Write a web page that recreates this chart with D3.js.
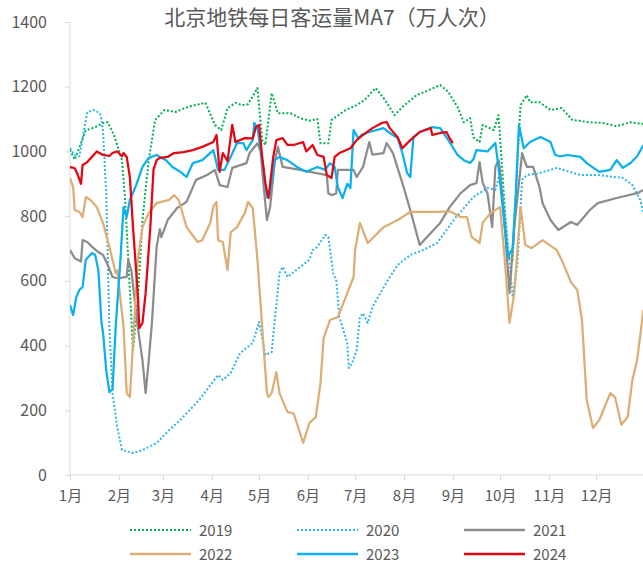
<!DOCTYPE html>
<html>
<head>
<meta charset="utf-8">
<style>
body { margin: 0; background: #fff; }
text { font-family: "Noto Sans CJK SC", "Noto Sans", sans-serif; fill: #595959; }
.axis path, .axis line { stroke: #d9d9d9; }
.lines path { fill: none; stroke-linejoin: round; }
</style>
</head>
<body>
<svg width="643" height="565"></svg>
<script src="https://cdn.jsdelivr.net/npm/d3@7"></script>
<script>
// [day of year, 万人次]
var s2019 = [[0,1005],[3,975],[10,1065],[16,1075],[22,1090],[24,1090],[28,1050],[33,973],[35,850],[37,665],[40,386],[43,540],[46,788],[50,973],[54,1097],[60,1128],[67,1122],[73,1134],[79,1143],[86,1150],[92,1082],[96,1066],[100,1134],[105,1150],[109,1143],[113,1146],[119,1196],[122,1035],[124,1020],[128,1180],[132,1118],[140,1118],[146,1103],[152,1095],[157,1100],[159,1025],[164,1025],[166,1097],[175,1128],[182,1143],[187,1159],[194,1196],[200,1159],[206,1112],[211,1137],[220,1174],[228,1190],[235,1205],[240,1185],[246,1137],[250,1090],[254,1103],[256,1044],[260,1029],[262,1082],[269,1066],[272,1112],[274,973],[278,674],[281,665],[284,973],[286,1143],[290,1174],[292,1152],[298,1152],[305,1128],[312,1134],[319,1097],[330,1090],[338,1088],[347,1078],[356,1090],[364,1085]];
var s2020 = [[0,1010],[3,989],[6,985],[8,1041],[11,1122],[15,1128],[19,1118],[20,1097],[21,1057],[23,871],[24,665],[25,457],[27,253],[30,148],[33,77],[40,68],[46,77],[55,99],[63,139],[70,170],[82,232],[94,309],[97,294],[102,315],[108,377],[116,408],[120,473],[124,371],[128,380],[133,624],[135,643],[138,612],[152,665],[154,695],[157,705],[162,742],[164,735],[166,665],[167,624],[169,603],[171,488],[176,408],[177,331],[179,345],[182,386],[184,488],[186,500],[189,470],[192,519],[201,596],[208,649],[216,680],[224,695],[233,717],[245,797],[248,813],[256,859],[265,887],[270,881],[273,933],[277,766],[281,550],[284,650],[287,912],[290,927],[298,933],[309,949],[324,927],[335,927],[351,918],[357,896],[362,850],[364,810]];
var s2021 = [[0,695],[3,670],[7,660],[8,726],[11,720],[14,705],[18,689],[21,680],[24,649],[27,612],[30,608],[36,612],[37,665],[39,630],[43,457],[46,355],[48,253],[50,355],[52,470],[55,705],[57,760],[58,735],[62,788],[68,825],[74,844],[80,912],[87,927],[92,943],[95,896],[100,890],[103,949],[112,964],[114,995],[119,1025],[121,1000],[123,890],[125,788],[127,828],[130,970],[132,1014],[135,952],[146,943],[163,927],[164,870],[166,865],[169,870],[170,943],[180,943],[182,921],[186,952],[190,1029],[192,990],[199,995],[201,1026],[205,995],[211,902],[216,819],[222,711],[229,748],[235,779],[241,828],[248,871],[254,896],[258,902],[260,967],[262,902],[265,871],[268,766],[270,952],[272,973],[273,943],[276,766],[279,562],[282,766],[287,995],[290,952],[294,952],[298,890],[300,840],[305,788],[310,757],[318,782],[322,773],[330,819],[335,840],[347,856],[360,871],[364,881]];
var s2022 = [[0,918],[2,890],[3,819],[6,813],[8,797],[10,859],[13,850],[17,828],[21,779],[25,705],[29,624],[30,633],[34,457],[36,253],[38,241],[40,408],[43,665],[46,766],[50,810],[55,840],[63,850],[66,865],[69,850],[74,766],[81,720],[84,726],[89,779],[91,830],[93,844],[94,726],[97,720],[100,633],[102,750],[106,766],[111,810],[113,844],[116,825],[119,665],[122,457],[125,253],[126,241],[128,253],[131,318],[133,253],[138,195],[142,190],[148,99],[152,161],[156,179],[159,284],[161,423],[165,479],[170,488],[176,562],[180,612],[181,695],[184,779],[189,717],[199,766],[208,788],[216,813],[224,813],[233,813],[241,815],[248,797],[252,797],[255,735],[260,717],[262,780],[267,810],[273,828],[276,665],[279,470],[282,560],[286,828],[289,711],[293,701],[300,726],[309,695],[313,655],[318,596],[322,572],[325,479],[328,232],[332,145],[336,170],[343,253],[346,240],[350,155],[354,180],[357,294],[360,355],[364,510]];
var s2023 = [[0,525],[2,494],[4,550],[6,572],[8,581],[10,665],[14,686],[16,680],[18,633],[20,470],[21,439],[23,324],[25,256],[27,265],[29,457],[32,665],[34,828],[36,797],[38,850],[42,896],[46,952],[50,980],[55,989],[57,983],[61,973],[65,952],[70,937],[74,921],[78,964],[84,973],[91,1004],[94,943],[98,943],[102,983],[106,1026],[110,1026],[112,1004],[116,1035],[117,1088],[119,1072],[122,973],[125,859],[127,871],[130,973],[133,983],[138,973],[144,952],[150,937],[157,952],[162,943],[165,964],[168,952],[170,890],[173,856],[176,900],[178,887],[180,1066],[183,1040],[185,1051],[190,1060],[199,1072],[203,1057],[208,1041],[211,995],[214,933],[216,921],[218,1044],[222,1060],[230,1075],[235,1072],[241,1029],[246,989],[250,973],[254,964],[256,975],[258,1004],[265,1000],[270,1026],[272,952],[276,766],[278,674],[281,700],[283,871],[285,1082],[288,1010],[292,1029],[297,1041],[299,1044],[305,1029],[308,989],[311,985],[316,989],[324,983],[328,964],[336,937],[343,943],[347,973],[351,949],[356,965],[360,985],[364,1020]];
var s2024 = [[0,952],[3,948],[5,927],[7,900],[8,958],[11,967],[15,989],[17,1000],[21,989],[25,986],[27,995],[30,1000],[33,985],[34,995],[36,983],[38,921],[40,766],[43,562],[44,454],[46,470],[48,562],[51,766],[53,943],[55,973],[57,980],[62,983],[66,995],[72,998],[78,1004],[84,1014],[91,1029],[93,1051],[95,937],[97,995],[100,970],[103,1082],[105,1029],[111,1041],[116,1040],[118,1075],[120,1082],[122,983],[124,902],[126,856],[129,983],[131,1035],[135,1041],[138,1020],[142,1020],[148,1029],[150,1000],[154,1020],[157,989],[161,983],[163,927],[166,918],[168,983],[171,995],[178,1010],[182,1035],[186,1051],[192,1072],[198,1088],[201,1091],[203,1072],[208,1044],[211,1010],[216,1035],[222,1060],[229,1072],[230,1051],[235,1057],[239,1060],[241,1041],[243,1026]];

var monthStarts = [0,31,59,90,120,151,181,212,243,273,304,334];
var monthLabels = ["1月","2月","3月","4月","5月","6月","7月","8月","9月","10月","11月","12月"];
var yTicks = [0,200,400,600,800,1000,1200,1400];

var series = [
  {name: "2019", data: s2019, color: "#00b050", dash: "2,2"},
  {name: "2020", data: s2020, color: "#2eb4ee", dash: "2,2"},
  {name: "2021", data: s2021, color: "#8c8c8c", dash: null},
  {name: "2022", data: s2022, color: "#dcae76", dash: null},
  {name: "2023", data: s2023, color: "#0bb0ec", dash: null},
  {name: "2024", data: s2024, color: "#e30613", dash: null}
];

var svg = d3.select("svg");

var x = d3.scaleLinear().domain([0, 365]).range([70, 645]);
var y = d3.scaleLinear().domain([0, 1400]).range([475, 22]);

svg.append("text")
    .attr("x", 332).attr("y", 25)
    .attr("text-anchor", "middle")
    .style("font-size", "21px")
    .text("北京地铁每日客运量MA7（万人次）");

// y axis
var yAxis = svg.append("g")
    .attr("class", "axis")
    .attr("transform", "translate(70,0)")
    .call(d3.axisLeft(y).tickValues(yTicks).tickSize(5).tickPadding(18).tickFormat(d3.format("d")));
yAxis.select(".domain").attr("d", "M0," + y(1400) + "V" + y(0));
yAxis.selectAll("text").style("font-size", "16px").attr("fill", "#595959");

// x axis
var xAxis = svg.append("g")
    .attr("class", "axis")
    .attr("transform", "translate(0,475)")
    .call(d3.axisBottom(x).tickValues(monthStarts).tickSize(5).tickPadding(10)
        .tickFormat(function(d, i) { return monthLabels[i]; }));
xAxis.select(".domain").attr("d", "M70,0H643");
xAxis.selectAll("text").style("font-size", "15px").attr("fill", "#595959");

svg.append("clipPath").attr("id", "plot")
  .append("rect").attr("x", 70).attr("y", 0).attr("width", 573).attr("height", 476);

var line = d3.line()
    .x(function(d) { return x(d[0]); })
    .y(function(d) { return y(d[1]); });

svg.append("g")
    .attr("class", "lines")
    .attr("clip-path", "url(#plot)")
  .selectAll("path")
  .data(series)
  .enter().append("path")
    .attr("d", function(d) { return line(d.data); })
    .attr("stroke", function(d) { return d.color; })
    .attr("stroke-width", function(d) { return d.dash ? 2 : 2.25; })
    .attr("stroke-dasharray", function(d) { return d.dash; });

// legend, 3 columns x 2 rows
var legend = svg.append("g").selectAll("g")
    .data(series)
  .enter().append("g")
    .attr("transform", function(d, i) {
      return "translate(" + (130 + (i % 3) * 167) + "," + (530 + Math.floor(i / 3) * 24) + ")";
    });

legend.append("line")
    .attr("x1", 0).attr("x2", 61)
    .attr("stroke", function(d) { return d.color; })
    .attr("stroke-width", function(d) { return d.dash ? 2 : 2.5; })
    .attr("stroke-dasharray", function(d) { return d.dash; });

legend.append("text")
    .attr("x", 69).attr("y", 5.5)
    .style("font-size", "15px")
    .text(function(d) { return d.name; });
</script>
</body>
</html>
